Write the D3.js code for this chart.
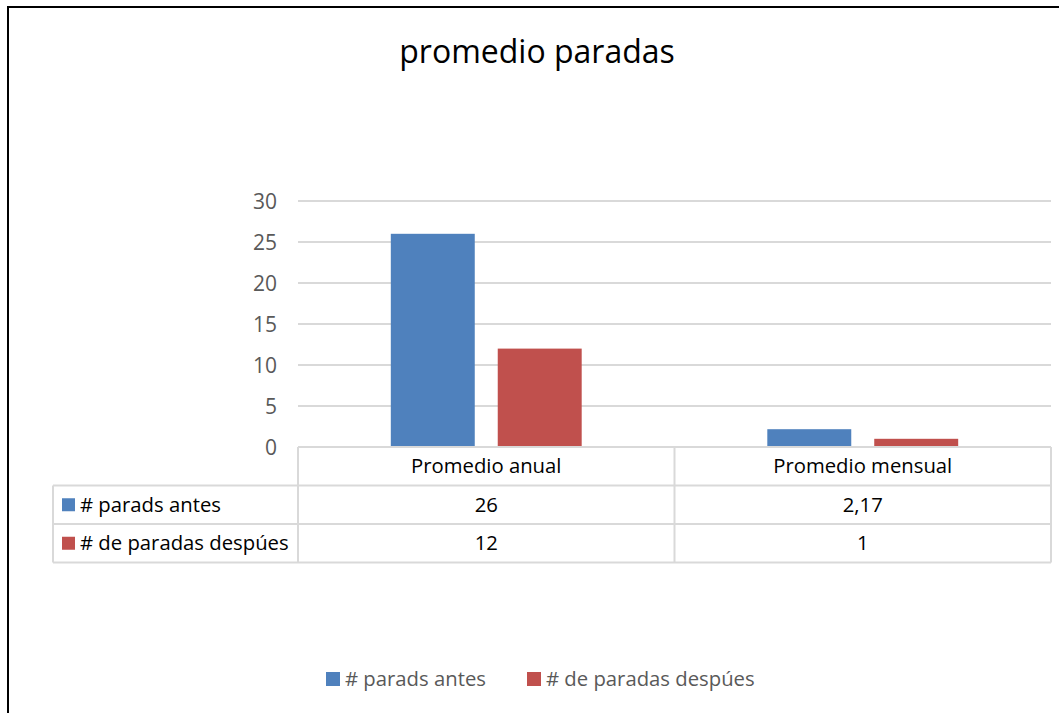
<!DOCTYPE html>
<html>
<head>
<meta charset="utf-8">
<script src="https://cdn.jsdelivr.net/npm/d3@7"></script>
<style>
  body { margin: 0; background: #fff; }
  text { font-family: "Open Sans", "Liberation Sans", sans-serif; }
</style>
</head>
<body>
<script>
// data
var categories = ['Promedio anual', 'Promedio mensual'];
var seriesNames = ['# parads antes', '# de paradas despúes'];
var antes = [26, 2.17];
var despues = [12, 1];
var antesLabels = ['26', '2,17'];
var despuesLabels = ['12', '1'];
var yTicks = [0, 5, 10, 15, 20, 25, 30];
var colors = ['#4F81BD', '#C0504D'];

var seriesValues = [antes, despues];
var seriesLabels = [antesLabels, despuesLabels];

var width = 1059, height = 713;
var plot = { left: 298, right: 1051, top: 201, bottom: 447 };
var rowH = 38.5;
var labelLeft = 53;
var fs = 20.3;

var svg = d3.select('body')
	.append('svg')
	.attr('width', width)
	.attr('height', height);

svg.append('rect')
	.attr('width', width).attr('height', height)
	.attr('fill', '#fff');

// outer border (only left and top visible)
svg.append('path')
	.attr('d', 'M8,' + height + 'V7H' + width)
	.attr('fill', 'none')
	.attr('stroke', '#000')
	.attr('stroke-width', 2);

// title
svg.append('text')
	.attr('x', 537)
	.attr('y', 63)
	.attr('text-anchor', 'middle')
	.attr('font-size', 32)
	.attr('fill', '#000')
	.text('promedio paradas');

// scales
var y = d3.scaleLinear().domain([0, 30]).range([plot.bottom, plot.top]);
var x0 = d3.scaleBand().domain(categories).range([plot.left, plot.right]).padding(0);
var groupW = x0.bandwidth() * 0.507;
var x1 = d3.scaleBand().domain(seriesNames).range([0, groupW]).paddingInner(23 / 107);

// gridlines
svg.append('g')
	.selectAll('line')
	.data(yTicks.filter(function (d) { return d > 0; }))
	.enter().append('line')
	.attr('x1', plot.left).attr('x2', plot.right)
	.attr('y1', function (d) { return y(d); })
	.attr('y2', function (d) { return y(d); })
	.attr('stroke', '#D9D9D9')
	.attr('stroke-width', 2);

// y axis
var yAxis = d3.axisLeft(y).tickValues(yTicks).tickSize(0).tickPadding(0);
var yg = svg.append('g')
	.attr('transform', 'translate(277,0)')
	.call(yAxis);
yg.select('.domain').remove();
yg.selectAll('text')
	.attr('font-size', 21)
	.attr('font-family', '"Open Sans", sans-serif')
	.attr('fill', '#595959')
	.attr('dy', '0.35em');

// bars
seriesNames.forEach(function (s, si) {
	svg.append('g')
		.selectAll('rect')
		.data(categories)
		.enter().append('rect')
		.attr('x', function (c) { return x0(c) + (x0.bandwidth() - groupW) / 2 + x1(s); })
		.attr('y', function (c, i) { return y(seriesValues[si][i]); })
		.attr('width', x1.bandwidth())
		.attr('height', function (c, i) { return y(0) - y(seriesValues[si][i]); })
		.attr('fill', colors[si]);
});

// data table
var tbl = svg.append('g');
var lineColor = '#D9D9D9';
function hline(x1_, x2_, yy) {
	tbl.append('line').attr('x1', x1_).attr('x2', x2_).attr('y1', yy).attr('y2', yy)
		.attr('stroke', lineColor).attr('stroke-width', 2);
}
function vline(xx, y1_, y2_) {
	tbl.append('line').attr('x1', xx).attr('x2', xx).attr('y1', y1_).attr('y2', y2_)
		.attr('stroke', lineColor).attr('stroke-width', 2);
}
var tTop = plot.bottom;
var tBottom = tTop + rowH * 3;
hline(plot.left, plot.right, tTop);
for (var r = 1; r <= 3; r++) hline(labelLeft, plot.right, tTop + rowH * r);
vline(labelLeft, tTop + rowH, tBottom);
vline(plot.left, tTop, tBottom);
categories.forEach(function (c) { vline(x0(c) + x0.bandwidth(), tTop, tBottom); });

// header row
tbl.selectAll('.hdr')
	.data(categories)
	.enter().append('text')
	.attr('x', function (c) { return x0(c) + x0.bandwidth() / 2; })
	.attr('y', tTop + rowH / 2)
	.attr('dy', '0.35em')
	.attr('text-anchor', 'middle')
	.attr('font-size', fs)
	.attr('fill', '#000')
	.text(function (c) { return c; });

// series rows
seriesNames.forEach(function (s, si) {
	var cy = tTop + rowH * (si + 1) + rowH / 2;
	tbl.append('rect')
		.attr('x', 62).attr('y', cy - 6.5)
		.attr('width', 13).attr('height', 13)
		.attr('fill', colors[si]);
	tbl.append('text')
		.attr('x', 80).attr('y', cy).attr('dy', '0.35em')
		.attr('font-size', fs).attr('fill', '#000')
		.text(s);
	tbl.selectAll('.v' + si)
		.data(categories)
		.enter().append('text')
		.attr('x', function (c) { return x0(c) + x0.bandwidth() / 2; })
		.attr('y', cy).attr('dy', '0.35em')
		.attr('text-anchor', 'middle')
		.attr('font-size', fs).attr('fill', '#000')
		.text(function (c, i) { return seriesLabels[si][i]; });
});

// legend
var legendX = [326, 527];
var legend = svg.append('g');
seriesNames.forEach(function (s, si) {
	legend.append('rect')
		.attr('x', legendX[si]).attr('y', 672)
		.attr('width', 14).attr('height', 14)
		.attr('fill', colors[si]);
	legend.append('text')
		.attr('x', legendX[si] + 19).attr('y', 679).attr('dy', '0.35em')
		.attr('font-size', fs).attr('fill', '#595959')
		.text(s);
});
</script>
</body>
</html>
